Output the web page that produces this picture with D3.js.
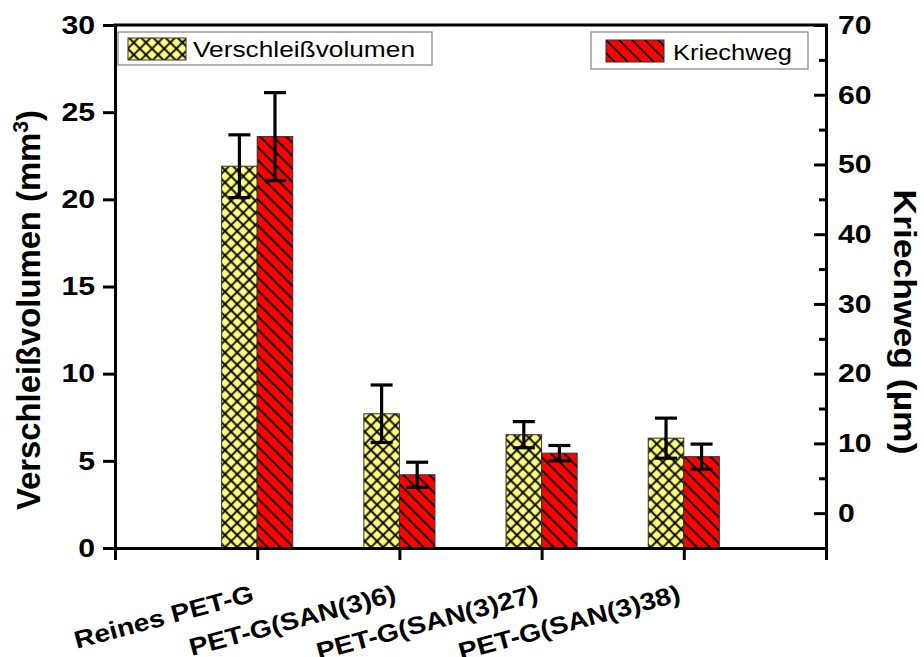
<!DOCTYPE html>
<html><head><meta charset="utf-8">
<script src="https://cdn.jsdelivr.net/npm/d3@7/dist/d3.min.js"></script>
<style>
html,body{margin:0;padding:0;background:#fff;}
svg text{font-family:Arial,"Liberation Sans",sans-serif;}
</style></head>
<body><div id="chart"></div>
<script>
// ---- data ----
const categories = ["Reines PET-G", "PET-G(SAN(3)6)", "PET-G(SAN(3)27)", "PET-G(SAN(3)38)"];
const verschleiss = [21.9, 7.7, 6.5, 6.3];          // mm³ (left axis)
const verschleissErr = [1.8, 1.65, 0.75, 1.15];
const kriechweg = [54.0, 5.5, 8.6, 8.1];            // µm (right axis)
const kriechwegErr = [6.3, 1.8, 1.1, 1.8];
const leftTicks = [0, 5, 10, 15, 20, 25, 30];
const rightTicks = [0, 10, 20, 30, 40, 50, 60, 70];
const rightMinor = [-5, 5, 15, 25, 35, 45, 55, 65];

const W = 924, H = 657;
const L = 115, R = 826, T = 25, B = 548;

const svg = d3.select("#chart").append("svg").attr("width", W).attr("height", H);

const x = d3.scaleLinear().domain([0, categories.length + 1]).range([L, R]);
const yL = d3.scaleLinear().domain([0, 30]).range([B, T]);
const yR = d3.scaleLinear().domain([-5, 70]).range([B, T]);
const bw = x(0.25) - x(0);

// patterns
const defs = svg.append("defs");
const p1 = defs.append("pattern").attr("id", "cross").attr("patternUnits", "userSpaceOnUse")
  .attr("width", 8.6).attr("height", 8.6).attr("patternTransform", "rotate(45)");
p1.append("rect").attr("width", 8.6).attr("height", 8.6).attr("fill", "#FFFF80");
p1.append("path").attr("d", "M0,4.3H8.6M4.3,0V8.6").attr("stroke", "#000").attr("stroke-width", 1.8);
const p2 = defs.append("pattern").attr("id", "hatch").attr("patternUnits", "userSpaceOnUse")
  .attr("width", 9.2).attr("height", 9.2).attr("patternTransform", "rotate(45)");
p2.append("rect").attr("width", 9.2).attr("height", 9.2).attr("fill", "#FF0000");
p2.append("path").attr("d", "M0,4.6H9.2").attr("stroke", "#000").attr("stroke-width", 1.8);

// bars
const idx = categories.map((c, i) => i);
svg.append("g").selectAll("rect").data(idx).join("rect")
  .attr("x", i => x(i + 1) - bw).attr("width", bw)
  .attr("y", i => yL(verschleiss[i])).attr("height", i => yL(0) - yL(verschleiss[i]))
  .attr("fill", "url(#cross)").attr("stroke", "#333").attr("stroke-width", 1);
svg.append("g").selectAll("rect").data(idx).join("rect")
  .attr("x", i => x(i + 1)).attr("width", bw)
  .attr("y", i => yR(kriechweg[i])).attr("height", i => yR(-5) - yR(kriechweg[i]))
  .attr("fill", "url(#hatch)").attr("stroke", "#333").attr("stroke-width", 1);

// error bars
function errBars(vals, errs, scale, off) {
  const g = svg.append("g").attr("stroke", "#000").attr("stroke-width", 3.2);
  idx.forEach(i => {
    const cx = x(i + 1) + off;
    const y1 = scale(vals[i] + errs[i]), y2 = scale(vals[i] - errs[i]);
    g.append("line").attr("x1", cx).attr("x2", cx).attr("y1", y1).attr("y2", y2);
    g.append("line").attr("x1", cx - 11).attr("x2", cx + 11).attr("y1", y1).attr("y2", y1);
    g.append("line").attr("x1", cx - 11).attr("x2", cx + 11).attr("y1", y2).attr("y2", y2);
  });
}
errBars(verschleiss, verschleissErr, yL, -bw / 2);
errBars(kriechweg, kriechwegErr, yR, bw / 2);

function styleAxis(g) {
  g.select(".domain").attr("stroke", "#000").attr("stroke-width", 3).attr("stroke-linecap", "square");
  g.selectAll(".tick line").attr("stroke", "#000").attr("stroke-width", 3);
}
function styleTicks(g) {
  g.selectAll(".tick text").attr("font-size", 26).attr("font-weight", "bold").attr("fill", "#000")
    .attr("font-family", "Arial, 'Liberation Sans', sans-serif")
    .attr("textLength", d => String(d).length * 16.8).attr("lengthAdjust", "spacingAndGlyphs");
}

// left axis
const gl = svg.append("g").attr("transform", `translate(${L},0)`)
  .call(d3.axisLeft(yL).tickValues(leftTicks).tickSizeInner(12).tickSizeOuter(0).tickPadding(8));
styleAxis(gl); styleTicks(gl);

// right axis
const grm = svg.append("g").attr("transform", `translate(${R},0)`)
  .call(d3.axisRight(yR).tickValues(rightMinor).tickSizeInner(-7).tickSizeOuter(0).tickFormat(""));
styleAxis(grm);
const gr = svg.append("g").attr("transform", `translate(${R},0)`)
  .call(d3.axisRight(yR).tickValues(rightTicks).tickSizeInner(-12).tickSizeOuter(0).tickPadding(12));
styleAxis(gr); styleTicks(gr);

// bottom axis
const gb = svg.append("g").attr("transform", `translate(0,${B})`)
  .call(d3.axisBottom(x).tickValues(d3.range(0, categories.length + 2)).tickSizeInner(12).tickSizeOuter(0).tickFormat(""));
styleAxis(gb);

// top frame
svg.append("line").attr("x1", L).attr("x2", R).attr("y1", T).attr("y2", T)
  .attr("stroke", "#000").attr("stroke-width", 3).attr("stroke-linecap", "square");

// category labels
svg.append("g").selectAll("text").data(idx).join("text")
  .attr("transform", i => `translate(${x(i + 1) - 2},601) rotate(-15) scale(1.15,1)`)
  .attr("text-anchor", "end").attr("font-size", 24.5).attr("font-weight", "bold").attr("fill", "#000")
  .text(i => categories[i]);

// axis titles
svg.append("text").attr("transform", "translate(40,310) rotate(-90)")
  .attr("text-anchor", "middle").attr("font-size", 34).attr("font-weight", "bold")
  .attr("textLength", 400).attr("lengthAdjust", "spacingAndGlyphs")
  .html("Verschleißvolumen (mm<tspan font-size='22' dy='-12'>3</tspan><tspan dy='12'>)</tspan>");
svg.append("text").attr("transform", "translate(894,322) rotate(90)")
  .attr("text-anchor", "middle").attr("font-size", 32).attr("font-weight", "bold")
  .attr("textLength", 265).attr("lengthAdjust", "spacingAndGlyphs")
  .text("Kriechweg (µm)");

// legends
function legend(bx, by, bwid, bh, sx, sy, fill, label, tx, ty, tl) {
  const g = svg.append("g");
  g.append("rect").attr("x", bx).attr("y", by).attr("width", bwid).attr("height", bh)
    .attr("fill", "#fff").attr("stroke", "#808080").attr("stroke-width", 1.2);
  g.append("rect").attr("x", sx).attr("y", sy).attr("width", 58).attr("height", 22)
    .attr("fill", fill).attr("stroke", "#333").attr("stroke-width", 1);
  g.append("text").attr("x", tx).attr("y", ty).attr("font-size", 22.5).attr("fill", "#000")
    .attr("textLength", tl).attr("lengthAdjust", "spacingAndGlyphs").text(label);
}
legend(118, 32, 314, 33, 128, 38, "url(#cross)", "Verschleißvolumen", 193, 57, 222);
legend(591, 32, 217, 37, 606, 40, "url(#hatch)", "Kriechweg", 673, 60, 119);
</script>
</body></html>
